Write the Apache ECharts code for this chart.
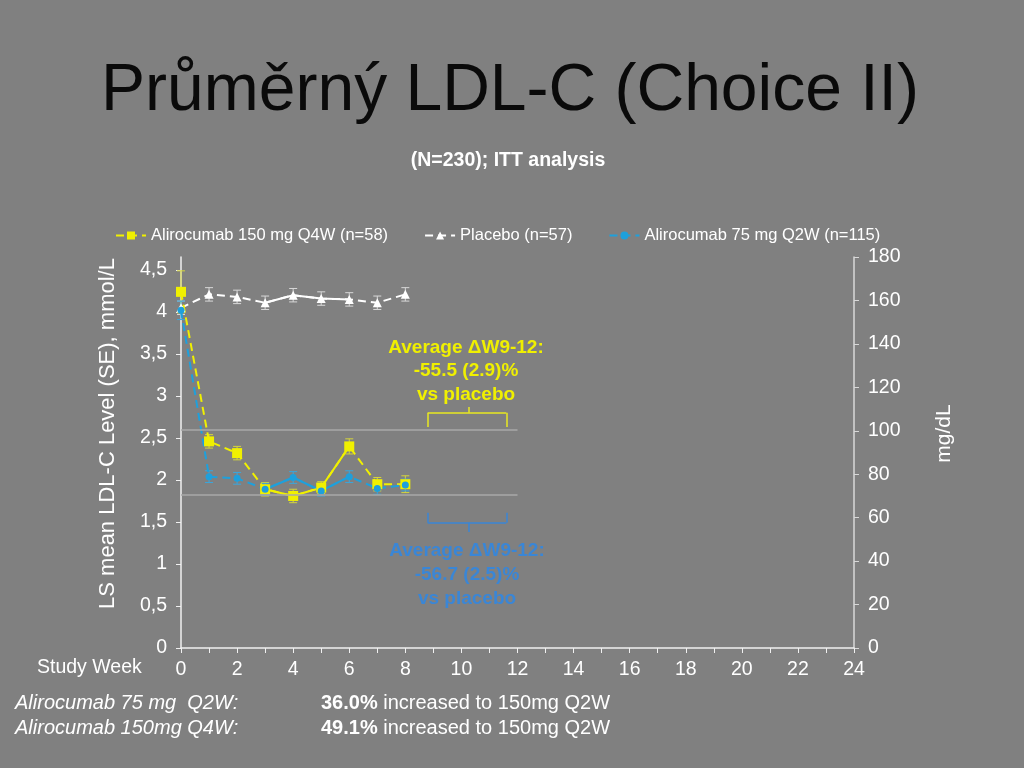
<!DOCTYPE html>
<html>
<head>
<meta charset="utf-8">
<script src="https://cdn.jsdelivr.net/npm/echarts@6/dist/echarts.min.js"></script>
<style>
  html, body { margin: 0; padding: 0; background: #808080; }
  #main { width: 1024px; height: 768px; }
</style>
</head>
<body>
<div id="main"></div>
<script>
// study weeks and LS mean LDL-C (mmol/L) with SE
var weeks = [0, 1, 2, 3, 4, 5, 6, 7, 8];
var ldlQ4W = [4.24, 2.46, 2.32, 1.89, 1.81, 1.91, 2.40, 1.95, 1.95];
var seQ4W = [0.25, 0.08, 0.08, 0.08, 0.08, 0.07, 0.09, 0.08, 0.10];
var ldlPlacebo = [4.05, 4.21, 4.18, 4.11, 4.20, 4.16, 4.15, 4.11, 4.21];
var sePlacebo = [0.08, 0.08, 0.08, 0.08, 0.08, 0.08, 0.08, 0.08, 0.08];
var ldlQ2W = [4.02, 2.04, 2.02, 1.89, 2.03, 1.87, 2.04, 1.90, 1.94];
var seQ2W = [0.11, 0.07, 0.07, 0.07, 0.07, 0.06, 0.07, 0.07, 0.07];

var seriesNames = ['Alirocumab 150 mg Q4W (n=58)', 'Placebo (n=57)', 'Alirocumab 75 mg Q2W (n=115)'];
var refLines = [2.6, 1.82];   // mmol/L, drawn from week 0 to 12
var mgPerMmol = 38.67;

var YELLOW = '#f0f000';
var BLUE = '#1ea0dc';
var WHITE = '#ffffff';
var FONT = '"Liberation Sans", Arial, sans-serif';

var myChart = echarts.init(document.getElementById('main'));

function pts(vals) {
  return weeks.map(function (w, i) { return [w, vals[i]]; });
}
// only weeks 3..6 are joined by solid lines on the slide
function solidPart(vals) {
  return weeks.map(function (w, i) { return [w, (i >= 3 && i <= 6) ? vals[i] : null]; });
}
function errData(vals, se) {
  return weeks.map(function (w, i) { return [w, vals[i] - se[i], vals[i] + se[i]]; });
}
function errSeries(vals, se, color) {
  return {
    type: 'custom',
    yAxisIndex: 0,
    silent: true,
    z: 1,
    data: errData(vals, se),
    encode: { x: 0, y: [1, 2] },
    renderItem: function (params, api) {
      var x = api.value(0);
      var lo = api.coord([x, api.value(1)]);
      var hi = api.coord([x, api.value(2)]);
      var w = 4;
      var st = { stroke: color, lineWidth: 1 };
      return {
        type: 'group',
        children: [
          { type: 'line', shape: { x1: hi[0], y1: hi[1], x2: lo[0], y2: lo[1] }, style: st },
          { type: 'line', shape: { x1: hi[0] - w, y1: hi[1], x2: hi[0] + w, y2: hi[1] }, style: st },
          { type: 'line', shape: { x1: lo[0] - w, y1: lo[1], x2: lo[0] + w, y2: lo[1] }, style: st }
        ]
      };
    }
  };
}
function dashedSeries(name, vals, color, symbol, size) {
  return {
    name: name,
    type: 'line',
    data: pts(vals),
    symbol: symbol,
    symbolSize: size,
    itemStyle: { color: color },
    lineStyle: { color: color, width: 2, type: [8, 5] },
    z: 3
  };
}
function solidSeries(vals, color) {
  return {
    type: 'line',
    data: solidPart(vals),
    symbol: 'none',
    silent: true,
    lineStyle: { color: color, width: 2 },
    z: 2
  };
}
function bracketSeg(a, b, color) {
  return [{ coord: a, lineStyle: { color: color, width: 1.5, type: 'solid' } }, { coord: b }];
}

var option = {
  backgroundColor: '#808080',
  textStyle: { fontFamily: FONT },
  legend: {
    data: seriesNames,
    top: 222,
    left: 110,
    itemGap: 36,
    itemWidth: 30,
    itemHeight: 10,
    textStyle: { color: WHITE, fontSize: 16.5 }
  },
  grid: { left: 181, right: 170, top: 257, bottom: 120 },
  xAxis: {
    type: 'value',
    min: 0,
    max: 24,
    interval: 1,
    axisLine: { lineStyle: { color: '#f0f0f0', width: 1.5 } },
    axisTick: { lineStyle: { color: '#f0f0f0' }, length: 5 },
    splitLine: { show: false },
    axisLabel: {
      color: WHITE,
      fontSize: 19.5,
      margin: 12,
      formatter: function (v) { return v % 2 === 0 ? String(v) : ''; }
    }
  },
  yAxis: [
    {
      type: 'value',
      min: 0,
      max: 180 / mgPerMmol,
      interval: 0.5,
      name: 'LS mean LDL-C Level (SE), mmol/L',
      nameLocation: 'middle',
      nameGap: 62,
      nameTextStyle: { color: WHITE, fontSize: 22, padding: [0, 0, 0, 38] },
      axisLine: { show: true, lineStyle: { color: '#f0f0f0', width: 1.5 } },
      axisTick: { show: true, lineStyle: { color: '#f0f0f0' }, length: 5 },
      splitLine: { show: false },
      axisLabel: {
        color: WHITE,
        fontSize: 19.5,
        margin: 14,
        showMaxLabel: false,
        formatter: function (v) {
          if (Math.abs(v * 2 - Math.round(v * 2)) > 1e-6) return '';
          return String(Math.round(v * 10) / 10).replace('.', ',');
        }
      }
    },
    {
      type: 'value',
      min: 0,
      max: 180,
      interval: 20,
      position: 'right',
      name: 'mg/dL',
      nameLocation: 'middle',
      nameGap: 80,
      nameRotate: 90,
      nameTextStyle: { color: WHITE, fontSize: 21, padding: [0, 0, 0, 38] },
      axisLine: { show: true, lineStyle: { color: '#d8d8d8', width: 1.5 } },
      axisTick: { show: true, lineStyle: { color: '#d8d8d8' }, length: 5 },
      splitLine: { show: false },
      axisLabel: { color: WHITE, fontSize: 19.5, margin: 14 }
    }
  ],
  series: [
    errSeries(ldlPlacebo, sePlacebo, '#d8d8d8'),
    errSeries(ldlQ4W, seQ4W, '#d4d43c'),
    errSeries(ldlQ2W, seQ2W, '#3aa6dc'),
    solidSeries(ldlPlacebo, WHITE),
    solidSeries(ldlQ4W, YELLOW),
    solidSeries(ldlQ2W, BLUE),
    dashedSeries(seriesNames[1], ldlPlacebo, WHITE, 'triangle', 9),
    dashedSeries(seriesNames[0], ldlQ4W, YELLOW, 'rect', 10),
    dashedSeries(seriesNames[2], ldlQ2W, BLUE, 'circle', 7),
    {
      // reference lines and brackets for the W9-12 averages
      type: 'line',
      data: [],
      silent: true,
      markLine: {
        symbol: 'none',
        silent: true,
        label: { show: false },
        data: [
          bracketSeg([0, refLines[0]], [12, refLines[0]], '#a8a8a8'),
          bracketSeg([0, refLines[1]], [12, refLines[1]], '#a8a8a8'),
          bracketSeg([8.8, 2.63], [8.8, 2.80], '#e8e820'),
          bracketSeg([8.8, 2.80], [11.6, 2.80], '#e8e820'),
          bracketSeg([11.6, 2.80], [11.6, 2.63], '#e8e820'),
          bracketSeg([10.25, 2.80], [10.25, 2.87], '#e8e820'),
          bracketSeg([8.8, 1.61], [8.8, 1.49], '#3a86d6'),
          bracketSeg([8.8, 1.49], [11.6, 1.49], '#3a86d6'),
          bracketSeg([11.6, 1.49], [11.6, 1.61], '#3a86d6'),
          bracketSeg([10.25, 1.49], [10.25, 1.38], '#3a86d6')
        ]
      }
    }
  ],
  graphic: [
    {
      type: 'text', x: 510, y: 59,
      style: { text: 'Průměrný LDL-C (Choice II)', fill: '#0a0a0a', align: 'center', verticalAlign: 'top', font: '66px ' + FONT }
    },
    {
      type: 'text', x: 508, y: 161,
      style: { text: '(N=230); ITT analysis', fill: WHITE, align: 'center', verticalAlign: 'middle', font: 'bold 19.5px ' + FONT }
    },
    {
      type: 'text', x: 466, y: 336,
      style: {
        text: 'Average ΔW9-12:\n-55.5 (2.9)%\nvs placebo', fill: '#f0f000', align: 'center', verticalAlign: 'top',
        lineHeight: 23.5, font: 'bold 19px ' + FONT
      }
    },
    {
      type: 'text', x: 467, y: 539,
      style: {
        text: 'Average ΔW9-12:\n-56.7 (2.5)%\nvs placebo', fill: '#3a86d6', align: 'center', verticalAlign: 'top',
        lineHeight: 24, font: 'bold 19px ' + FONT
      }
    },
    {
      type: 'text', x: 37, y: 668,
      style: { text: 'Study Week', fill: WHITE, verticalAlign: 'middle', font: '19.5px ' + FONT }
    },
    {
      type: 'text', x: 15, y: 703,
      style: { text: 'Alirocumab 75 mg  Q2W:', fill: WHITE, verticalAlign: 'middle', font: 'italic 20px ' + FONT }
    },
    {
      type: 'text', x: 15, y: 728,
      style: { text: 'Alirocumab 150mg Q4W:', fill: WHITE, verticalAlign: 'middle', font: 'italic 20px ' + FONT }
    },
    {
      type: 'text', x: 321, y: 703,
      style: {
        text: '{b|36.0%} increased to 150mg Q2W', fill: WHITE, verticalAlign: 'middle',
        font: '20px ' + FONT,
        rich: { b: { fontWeight: 'bold', fontSize: 20, fill: WHITE } }
      }
    },
    {
      type: 'text', x: 321, y: 728,
      style: {
        text: '{b|49.1%} increased to 150mg Q2W', fill: WHITE, verticalAlign: 'middle',
        font: '20px ' + FONT,
        rich: { b: { fontWeight: 'bold', fontSize: 20, fill: WHITE } }
      }
    }
  ]
};

myChart.setOption(option);
</script>
</body>
</html>
